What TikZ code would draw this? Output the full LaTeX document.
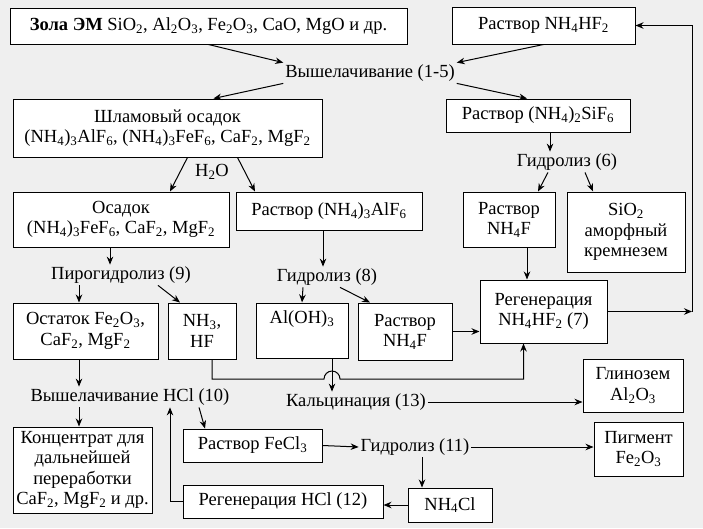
\documentclass[tikz,border=0pt]{standalone}
\usepackage{fontspec}
\setmainfont{Liberation Serif}
\usepackage{tikz}
\usetikzlibrary{arrows.meta}
\newcommand{\chsub}[1]{\textsubscript{#1}}
\definecolor{bgray}{RGB}{239,239,239}

\begin{document}
\begin{tikzpicture}[x=1pt,y=-1pt,font=\rmfamily\fontsize{18.5}{20.5}\selectfont,
  box/.style={draw,fill=white,line width=1pt,align=center,inner sep=0pt},
  lbl/.style={inner sep=1.5pt},
  >={Stealth[length=8pt,width=6.5pt]}, line width=1pt]
\fill[bgray] (0,0) rectangle (703,528);
\useasboundingbox (0,0) rectangle (703,528);
% boxes
\node[box,minimum width=397,minimum height=36] (zola) at (208.5,26) {\textbf{Зола ЭМ} SiO\chsub{2}, Al\chsub{2}O\chsub{3}, Fe\chsub{2}O\chsub{3}, CaO, MgO и др.};
\node[box,minimum width=183,minimum height=37] (nhf) at (543.5,25.5) {Раствор NH\chsub{4}HF\chsub{2}};
\node[lbl] (t15) at (370,73) {Вышелачивание (1-5)};
\node[box,minimum width=309,minimum height=58] (shlam) at (167.5,128) {Шламовый осадок\\(NH\chsub{4})\chsub{3}AlF\chsub{6}, (NH\chsub{4})\chsub{3}FeF\chsub{6}, CaF\chsub{2}, MgF\chsub{2}};
\node[box,minimum width=184,minimum height=33] (sif) at (538,115.5) {Раствор (NH\chsub{4})\chsub{2}SiF\chsub{6}};
\node[lbl] (t6) at (567,162) {Гидролиз (6)};
\node[lbl] (water) at (212,172) {H\chsub{2}O};
\node[box,minimum width=216,minimum height=55] (osadok) at (121,219.5) {Осадок\\(NH\chsub{4})\chsub{3}FeF\chsub{6}, CaF\chsub{2}, MgF\chsub{2}};
\node[box,minimum width=186,minimum height=38] (alf) at (329,211) {Раствор (NH\chsub{4})\chsub{3}AlF\chsub{6}};
\node[box,minimum width=92,minimum height=55] (nhfa) at (509,219.5) {Раствор\\NH\chsub{4}F};
\node[box,minimum width=118,minimum height=80] (sio) at (626,232) {SiO\chsub{2}\\аморфный\\кремнезем};
\node[lbl] (t9) at (121,275) {Пирогидролиз (9)};
\node[lbl] (t8) at (327,277) {Гидролиз (8)};
\node[box,minimum width=145,minimum height=56] (ost) at (85.5,331) {Остаток Fe\chsub{2}O\chsub{3},\\CaF\chsub{2}, MgF\chsub{2}};
\node[box,minimum width=68,minimum height=56] (nh3) at (202,331) {NH\chsub{3},\\HF};
\node[box,minimum width=92,minimum height=55] (aloh) at (302,330.5) {Al(OH)\chsub{3}\\\strut};
\node[box,minimum width=94,minimum height=57] (nhfb) at (405,331.5) {Раствор\\NH\chsub{4}F};
\node[box,minimum width=127,minimum height=63] (reg) at (543.5,311.5) {Регенерация\\NH\chsub{4}HF\chsub{2} (7)};
\node[box,minimum width=100,minimum height=53] (glin) at (633,385.5) {Глинозем\\Al\chsub{2}O\chsub{3}};
\node[lbl] (t13) at (356,402) {Кальцинация (13)};
\node[lbl] (t10) at (130,397) {Вышелачивание HCl (10)};
\node[box,minimum width=139,minimum height=86] (konc) at (82.5,470) {Концентрат для\\дальнейшей\\переработки\\CaF\chsub{2}, MgF\chsub{2} и др.};
\node[box,minimum width=139,minimum height=33] (fecl) at (252.5,445.5) {Раствор FeCl\chsub{3}};
\node[lbl] (t11) at (415,447) {Гидролиз (11)};
\node[box,minimum width=89,minimum height=54] (pigm) at (638.5,449) {Пигмент\\Fe\chsub{2}O\chsub{3}};
\node[box,minimum width=200,minimum height=33] (reghcl) at (283,501.5) {Регенерация HCl (12)};
\node[box,minimum width=84,minimum height=34] (nhcl) at (450,505) {NH\chsub{4}Cl};
\coordinate (back) at (692,311.5);
\coordinate (bus) at (0,379);
% connectors
\draw[->] (zola.south) -- (t15.north west);
\draw[->] (nhf.south) -- (t15.north east);
\draw[->] (t15.south west) -- ([xshift=46]shlam.north);
\draw[->] (t15.south east) -- ([xshift=-11]sif.north);
\draw[->] ([xshift=12]sif.south) -- ([xshift=-17]t6.north);
\draw[->] ([xshift=-19]t6.south) -- ([xshift=29]nhfa.north);
\draw[->] ([xshift=18]t6.south) -- ([xshift=-33]sio.north);
\draw[->] ([xshift=20]shlam.south) -- ([xshift=49]osadok.north);
\draw[->] ([xshift=70]shlam.south) -- ([xshift=-74]alf.north);
\draw[->] ([xshift=-11]osadok.south) -- ([xshift=-11]t9.north);
\draw[->] ([xshift=-42]t9.south) -- ([xshift=-6.5]ost.north);
\draw[->] ([xshift=37]t9.south) -- ([xshift=-22]nh3.north);
\draw[->] ([xshift=-6]alf.south) -- ([xshift=-4]t8.north);
\draw[->] ([xshift=-24]t8.south) -- (aloh.north);
\draw[->] ([xshift=13]t8.south) -- ([xshift=-35]nhfb.north);
\draw[->] (nhfb.east) -- (nhfb.east -| reg.west);
\draw[->] ([xshift=18]nhfa.south) -- ([xshift=18]nhfa.south |- reg.north);
\draw[->] (reg.east) -- (back);
\draw[->] (back) |- (nhf.east);
\draw[->] ([xshift=10]nh3.south) |- ([xshift=22]aloh.south |- bus) arc (180:360:8) -| ([xshift=-20]reg.south);
\draw[->] ([xshift=30]aloh.south) -- ([xshift=30]aloh.south |- t13.north);
\draw[->] (t13.east) -- (t13.east -| glin.west);
\draw[->] ([xshift=-6.5]ost.south) -- ([xshift=-6.5]ost.south |- t10.north);
\draw[->] ([xshift=-3.5]konc.north |- t10.south) -- ([xshift=-3.5]konc.north);
\draw[->] ([xshift=69]t10.south) -- ([xshift=-47.5]fecl.north);
\draw[->] (fecl.east) -- (t11.west);
\draw[->] (t11.east) -- (t11.east -| pigm.west);
\draw[->] ([xshift=7]t11.south) -- ([xshift=7]t11.south |- nhcl.north);
\draw[->] (nhcl.west) -- (nhcl.west -| reghcl.east);
\draw[->] (reghcl.west) -| ([xshift=40]t10.south);
\end{tikzpicture}
\end{document}
